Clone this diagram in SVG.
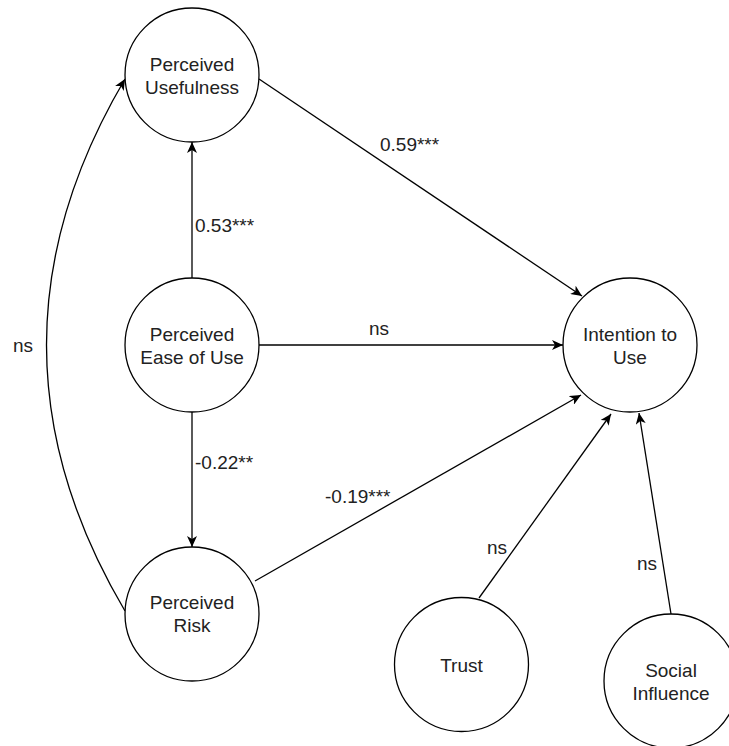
<svg xmlns="http://www.w3.org/2000/svg" width="729" height="746" viewBox="0 0 729 746">
<style>
.node{fill:#fff;stroke:#000;stroke-width:1.3}
.nt{font-family:"Liberation Sans",Arial,sans-serif;font-size:19px;fill:#222;text-anchor:middle}
.lbl{font-family:"Liberation Sans",Arial,sans-serif;font-size:19px;fill:#222}
.edge{fill:none;stroke:#000;stroke-width:1.3;marker-end:url(#arr)}
</style>
<defs>
<marker id="arr" markerUnits="userSpaceOnUse" markerWidth="12" markerHeight="10" refX="11" refY="5" orient="auto">
<path d="M0,0 L11,5 L0,10 L3,5 Z" fill="#000"/>
</marker>
</defs>
<rect width="729" height="746" fill="#fff"/>
<g id="connectors">
<line class="edge" x1="192" y1="278" x2="192" y2="142"/>
<line class="edge" x1="259" y1="79" x2="582" y2="296"/>
<line class="edge" x1="259" y1="345" x2="563" y2="345"/>
<line class="edge" x1="192" y1="412" x2="192" y2="547"/>
<line class="edge" x1="255" y1="581" x2="581" y2="395"/>
<line class="edge" x1="479" y1="598" x2="611" y2="414"/>
<line class="edge" x1="671" y1="614" x2="639" y2="413"/>
<path class="edge" d="M125,611 Q-32,345 125,79"/>
<text class="lbl" x="380" y="151">0.59***</text>
<text class="lbl" x="195" y="232">0.53***</text>
<text class="lbl" x="13" y="352">ns</text>
<text class="lbl" x="379" y="335" text-anchor="middle">ns</text>
<text class="lbl" x="195" y="469">-0.22**</text>
<text class="lbl" x="325" y="503">-0.19***</text>
<text class="lbl" x="487" y="554">ns</text>
<text class="lbl" x="637" y="570">ns</text>
</g>
<g id="pu">
<circle class="node" cx="192" cy="75" r="67"/>
<text class="nt" x="192" y="71">Perceived</text>
<text class="nt" x="192" y="94">Usefulness</text>
</g>
<g id="peou">
<circle class="node" cx="192" cy="345" r="67"/>
<text class="nt" x="192" y="341">Perceived</text>
<text class="nt" x="192" y="364">Ease of Use</text>
</g>
<g id="pr">
<circle class="node" cx="192" cy="614" r="67"/>
<text class="nt" x="192" y="609">Perceived</text>
<text class="nt" x="192" y="632">Risk</text>
</g>
<g id="itu">
<circle class="node" cx="630" cy="345" r="67"/>
<text class="nt" x="630" y="341">Intention to</text>
<text class="nt" x="630" y="364">Use</text>
</g>
<g id="trust">
<circle class="node" cx="461.5" cy="664.5" r="67"/>
<text class="nt" x="461.5" y="672">Trust</text>
</g>
<g id="si">
<circle class="node" cx="671" cy="681" r="67"/>
<text class="nt" x="671" y="677">Social</text>
<text class="nt" x="671" y="700">Influence</text>
</g>
</svg>
